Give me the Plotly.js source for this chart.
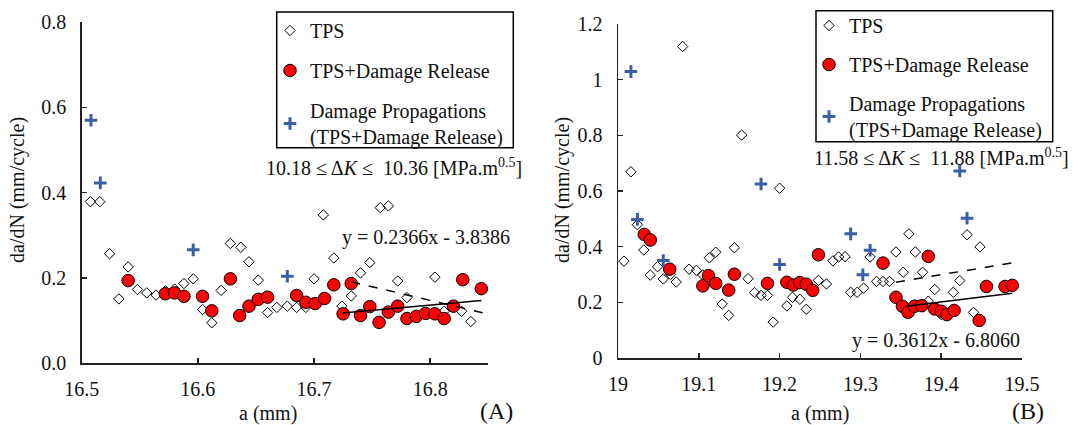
<!DOCTYPE html>
<html><head><meta charset="utf-8">
<script src="https://cdn.plot.ly/plotly-3.0.1.min.js"></script>
<style>html,body{margin:0;padding:0;background:#fff}#chart{width:1074px;height:425px}</style>
</head><body><div id="chart"></div>
<script>
// ---------- Panel A data ----------
const aTpsX = [16.5075,16.5156,16.524,16.532,16.540,16.548,16.556,16.564,16.572,16.580,16.588,16.596,16.604,16.612,16.620,16.628,16.637,16.644,16.652,16.660,16.668,16.677,16.685,16.693,16.700,16.708,16.717,16.724,16.732,16.740,16.748,16.757,16.764,16.772,16.780,16.804,16.812,16.827,16.835];
const aTpsY = [0.379,0.379,0.257,0.151,0.226,0.173,0.165,0.160,0.170,0.174,0.187,0.198,0.126,0.095,0.171,0.281,0.272,0.238,0.195,0.119,0.131,0.134,0.131,0.131,0.198,0.348,0.247,0.134,0.158,0.212,0.236,0.365,0.369,0.193,0.154,0.202,0.122,0.122,0.098];
const aRelX = [16.540,16.572,16.580,16.588,16.604,16.612,16.628,16.636,16.644,16.652,16.660,16.685,16.693,16.701,16.709,16.717,16.725,16.732,16.740,16.748,16.756,16.764,16.772,16.780,16.788,16.796,16.804,16.812,16.820,16.828,16.844];
const aRelY = [0.194,0.163,0.165,0.157,0.157,0.123,0.198,0.112,0.134,0.150,0.155,0.159,0.143,0.140,0.152,0.184,0.116,0.187,0.112,0.133,0.096,0.120,0.134,0.105,0.110,0.117,0.116,0.105,0.134,0.196,0.175];
const aPropX = [16.508,16.516,16.596,16.677];
const aPropY = [0.570,0.423,0.266,0.204];
const aFitX = [16.7246,16.844];
const aFitY = [0.118,0.147];
const aDashX = [16.732,16.846];
const aDashY = [0.191,0.118];
const aTicks = [16.5,16.6,16.7,16.8];

// ---------- Panel B data ----------
const bTpsX = [19.0074,19.016,19.024,19.032,19.040,19.049,19.056,19.065,19.072,19.080,19.088,19.097,19.105,19.113,19.121,19.129,19.137,19.144,19.153,19.161,19.169,19.177,19.185,19.192,19.200,19.209,19.216,19.225,19.233,19.248,19.258,19.266,19.273,19.281,19.288,19.296,19.304,19.312,19.320,19.328,19.336,19.344,19.353,19.360,19.368,19.377,19.384,19.392,19.400,19.415,19.423,19.432,19.440,19.448];
const bTpsY = [0.348,0.669,0.479,0.388,0.298,0.328,0.284,0.300,0.273,1.119,0.319,0.315,0.298,0.360,0.380,0.194,0.153,0.396,0.801,0.285,0.235,0.225,0.225,0.129,0.610,0.187,0.218,0.211,0.175,0.279,0.266,0.349,0.363,0.364,0.236,0.236,0.251,0.363,0.275,0.275,0.275,0.381,0.308,0.446,0.381,0.308,0.204,0.246,0.156,0.236,0.278,0.443,0.164,0.399];
const bRelX = [19.0325,19.040,19.064,19.105,19.112,19.121,19.137,19.144,19.185,19.209,19.217,19.225,19.233,19.241,19.248,19.328,19.344,19.352,19.359,19.367,19.376,19.384,19.392,19.400,19.407,19.416,19.447,19.456,19.479,19.488];
const bRelY = [0.444,0.424,0.319,0.259,0.296,0.268,0.244,0.301,0.268,0.272,0.262,0.271,0.265,0.243,0.371,0.341,0.218,0.186,0.164,0.186,0.188,0.365,0.176,0.168,0.156,0.171,0.135,0.257,0.257,0.261];
const bPropX = [19.016,19.024,19.056,19.177,19.200,19.288,19.303,19.312,19.423,19.432];
const bPropY = [1.029,0.498,0.350,0.625,0.336,0.446,0.299,0.387,0.672,0.502];
const bFitX = [19.359,19.488];
const bFitY = [0.187,0.233];
const bDashX = [19.344,19.496];
const bDashY = [0.272,0.346];
const bTicks = [19,19.1,19.2,19.3,19.4,19.5];

const seriesNames = ['TPS','TPS+Damage Release','Damage Propagations<br>(TPS+Damage Release)'];
const rangeTextA = '10.18 \u2264 \u0394<i>K</i> \u2264  10.36 [MPa.m<sup>0.5</sup>]';
const rangeTextB = '11.58 \u2264 \u0394<i>K</i> \u2264  11.88 [MPa.m<sup>0.5</sup>]';
const eqTextA = 'y = 0.2366x - 3.8386';
const eqTextB = 'y = 0.3612x - 6.8060';

// ---------- styling ----------
const W = 1074, H = 425;
const FONT = '"Liberation Serif", "Times New Roman", serif';
const AX = '#222';
const px = v => v / W, py = v => 1 - v / H;

const tpsMarker = {symbol:'diamond-open', size:8, color:'#000', line:{color:'#000', width:1}};
const relMarker = {symbol:'circle', size:12.5, color:'#ff0000', line:{color:'#000', width:1}};
const propMarker = {symbol:'cross-thin-open', size:9, color:'#3a5fa6', line:{color:'#3a5fa6', width:3}};

function panel(xa, ya, leg, tx, ty, rx, ry, qx, qy, fx, fy, dx, dy) {
  return [
    {x:tx, y:ty, xaxis:xa, yaxis:ya, type:'scatter', mode:'markers', name:seriesNames[0], marker:tpsMarker, legend:leg, legendgroup:leg+'1', legendrank:1},
    {x:rx, y:ry, xaxis:xa, yaxis:ya, type:'scatter', mode:'markers', name:seriesNames[1], marker:relMarker, legend:leg, legendgroup:leg+'2', legendrank:2},
    {x:qx, y:qy, xaxis:xa, yaxis:ya, type:'scatter', mode:'markers', name:seriesNames[2], marker:propMarker, legend:leg, legendgroup:leg+'3', legendrank:3},
    {x:dx, y:dy, xaxis:xa, yaxis:ya, type:'scatter', mode:'lines', line:{color:'#000', width:1.5, dash:'dash'}, showlegend:false, hoverinfo:'skip'},
    {x:fx, y:fy, xaxis:xa, yaxis:ya, type:'scatter', mode:'lines', line:{color:'#000', width:1.5}, showlegend:false, hoverinfo:'skip'}
  ];
}

const data = [
  ...panel('x','y','legend', aTpsX,aTpsY,aRelX,aRelY,aPropX,aPropY,aFitX,aFitY,aDashX,aDashY),
  ...panel('x2','y2','legend2', bTpsX,bTpsY,bRelX,bRelY,bPropX,bPropY,bFitX,bFitY,bDashX,bDashY)
];

const axBase = {showgrid:false, zeroline:false, showline:true, linecolor:AX, linewidth:1.5,
  ticks:'inside', ticklen:5, tickwidth:1.5, tickcolor:AX, tickfont:{family:FONT, size:20, color:'#111'}, fixedrange:true};

const legBase = {font:{family:FONT, size:20, color:'#111'}, borderwidth:0, bgcolor:'rgba(0,0,0,0)',
  xanchor:'left', yanchor:'top', traceorder:'grouped', itemwidth:30};

const annBase = {showarrow:false, font:{family:FONT, size:20, color:'#111'}, xref:'paper', yref:'paper'};

const boxStyle = {type:'rect', xref:'paper', yref:'paper', line:{color:'#000', width:1.5}, fillcolor:'#fff', layer:'above'};

const layout = {
  width:W, height:H, margin:{l:0, r:0, t:0, b:0}, paper_bgcolor:'#fff', plot_bgcolor:'rgba(0,0,0,0)',
  font:{family:FONT, size:20, color:'#111'},
  showlegend:true,
  xaxis: {...axBase, domain:[px(81.7), px(488.3)], range:[16.5,16.85], tickvals:aTicks, ticktext:aTicks.map(v=>v.toFixed(1)), anchor:'y', ticklabelstandoff:7},
  yaxis: {...axBase, domain:[py(363.3), py(22.1)], range:[0,0.8], dtick:0.2, tick0:0, tickformat:'.1f', anchor:'x', ticklabelstandoff:10},
  xaxis2: {...axBase, domain:[px(618), px(1022)], range:[19,19.5], tickvals:bTicks, ticktext:bTicks.map(v=>String(v)), anchor:'y2', ticklabelstandoff:7},
  yaxis2: {...axBase, domain:[py(358), py(24)], range:[0,1.2], dtick:0.2, tick0:0, anchor:'x2', ticklabelstandoff:10},
  legend: {...legBase, x:px(270), y:py(11), tracegroupgap:11},
  legend2: {...legBase, x:px(809), y:py(6), tracegroupgap:10},
  shapes: [
    {...boxStyle, x0:px(276.7), x1:px(513.3), y0:py(147.7), y1:py(12)},
    {...boxStyle, x0:px(816), x1:px(1052.7), y0:py(141.7), y1:py(10.7)}
  ],
  annotations: [
    {...annBase, text:rangeTextA, x:px(394), y:py(167), xanchor:'center', yanchor:'middle'},
    {...annBase, text:eqTextA, x:px(426), y:py(237), xanchor:'center', yanchor:'middle'},
    {...annBase, text:rangeTextB, x:px(941), y:py(157), xanchor:'center', yanchor:'middle'},
    {...annBase, text:eqTextB, x:px(936), y:py(340), xanchor:'center', yanchor:'middle'},
    {...annBase, text:'a (mm)', x:px(268), y:py(413), xanchor:'center', yanchor:'middle'},
    {...annBase, text:'a (mm)', x:px(820), y:py(413), xanchor:'center', yanchor:'middle'},
    {...annBase, text:'(A)', font:{family:FONT, size:24, color:'#111'}, x:px(496), y:py(411), xanchor:'center', yanchor:'middle'},
    {...annBase, text:'(B)', font:{family:FONT, size:24, color:'#111'}, x:px(1028), y:py(411), xanchor:'center', yanchor:'middle'},
    {...annBase, text:'da/dN (mm/cycle)', textangle:-90, x:px(18), y:py(190), xanchor:'center', yanchor:'middle'},
    {...annBase, text:'da/dN (mm/cycle)', textangle:-90, x:px(563), y:py(190), xanchor:'center', yanchor:'middle'}
  ]
};

Plotly.newPlot('chart', data, layout, {displayModeBar:false, staticPlot:true});
</script>
</body></html>
